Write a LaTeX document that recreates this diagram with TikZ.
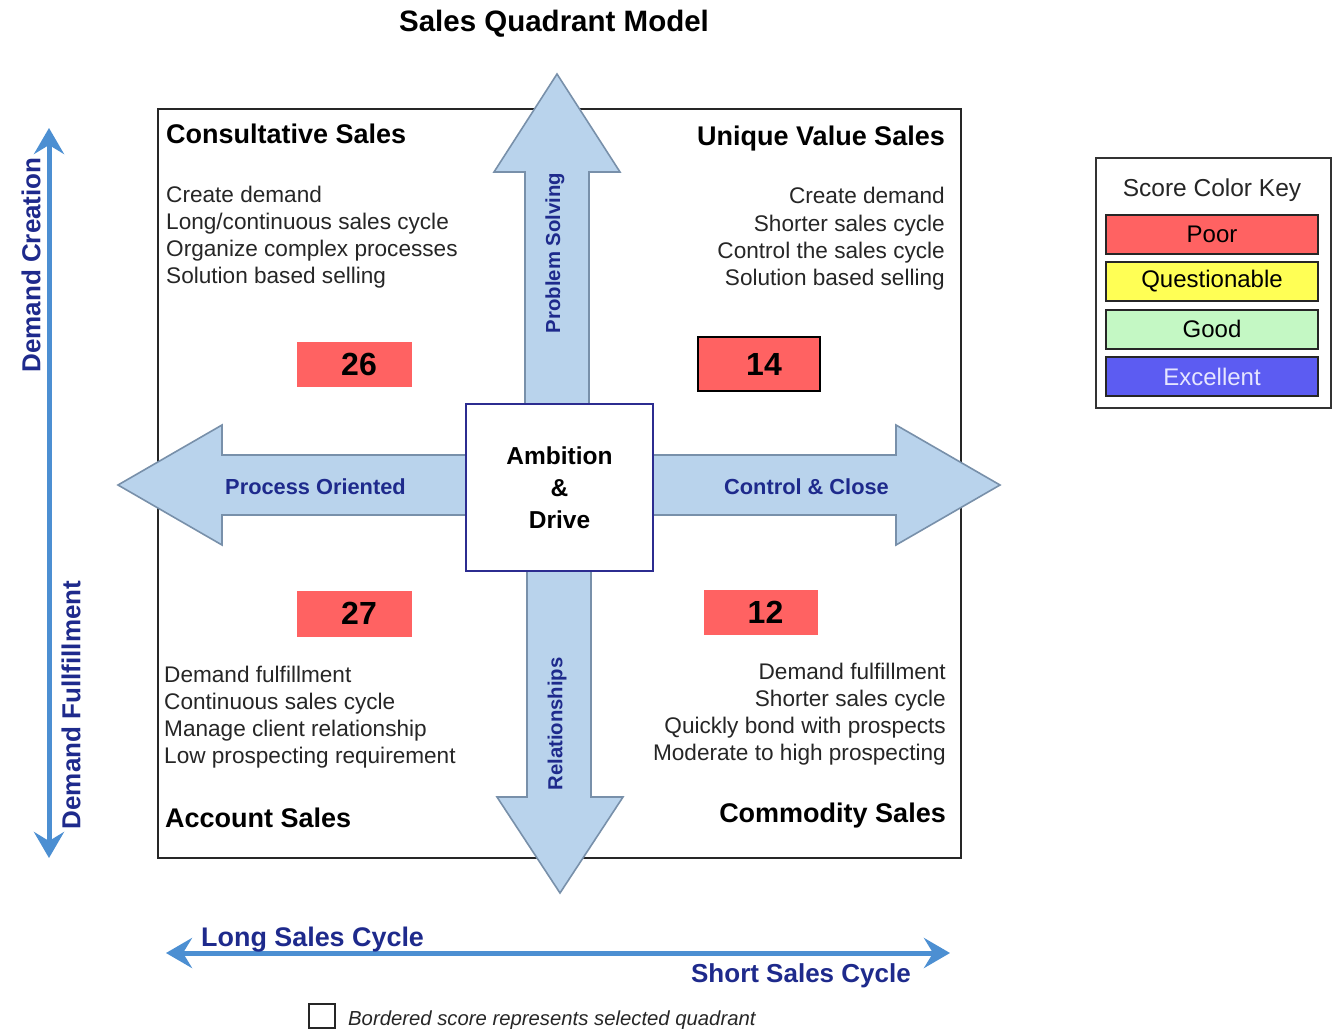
\documentclass[tikz,border=0pt]{standalone}
\usepackage{fontspec}
\setmainfont{Liberation Sans}
\usetikzlibrary{arrows.meta}

\definecolor{scorered}{HTML}{FF6262}
\definecolor{keyyellow}{HTML}{FFFF55}
\definecolor{keygreen}{HTML}{C4F8C4}
\definecolor{keyblue}{HTML}{5C5CF2}
\definecolor{keyblueText}{HTML}{E6E6FF}
\definecolor{bigarrowfill}{HTML}{B9D3EC}
\definecolor{bigarrowline}{HTML}{7890AA}
\definecolor{axisblue}{HTML}{4C8FD2}
\definecolor{navy}{HTML}{1E2A8C}
\definecolor{corenavy}{HTML}{2C2C90}
\definecolor{bodytext}{HTML}{262626}

\newcommand{\fs}[2]{\fontsize{#1}{#2}\selectfont}
% score figures sit a little right of their box centre
\newcommand{\score}[1]{\hspace*{10pt}#1}

\begin{document}
\begin{tikzpicture}[x=1pt,y=-1pt,
  bodyline/.style={inner sep=0pt, text=bodytext, font=\fs{22.6}{27}},
  quadhead/.style={inner sep=0pt, text=black, font=\fs{27}{32}\bfseries},
  scorebox/.style={fill=scorered, draw=scorered, line width=1pt, inner sep=0pt,
    font=\fs{32}{36}\bfseries},
  bigarrow/.style={fill=bigarrowfill, draw=bigarrowline, line width=1.6pt, line join=miter},
  arrowlabel/.style={inner sep=0pt, text=navy, font=\fs{21.8}{26}\bfseries},
  axisline/.style={draw=axisblue, line width=5pt,
    {Stealth[length=26pt,width=30pt,inset=9pt]}-{Stealth[length=26pt,width=30pt,inset=9pt]}},
  axislabel/.style={inner sep=0pt, text=navy, font=\fs{26}{30}\bfseries},
  keybar/.style={draw=black!85, line width=2pt, minimum width=212pt, minimum height=39pt,
    inner sep=0pt, font=\fs{24}{28}},
]
\useasboundingbox[fill=white] (0,0) rectangle (1332,1028);

% title
\node[inner sep=0pt, font=\fs{29.5}{34}\bfseries, anchor=base] (title) at (554,31) {Sales Quadrant Model};

% quadrant frame
\node[draw=black!85, line width=2pt, minimum width=803pt, minimum height=749pt,
  inner sep=0pt, anchor=north west] (frame) at (157,108) {};

% quadrant headings
\node[quadhead, anchor=base west] (qtl) at (166,143) {Consultative Sales};
\node[quadhead, anchor=base east] (qtr) at (945,145) {Unique Value Sales};
\node[quadhead, anchor=base west] (qbl) at (165,827) {Account Sales};
\node[quadhead, anchor=base east] (qbr) at (946,822) {Commodity Sales};

% quadrant descriptions
\node[bodyline, anchor=base west] (tl1) at (166,202) {Create demand};
\node[bodyline, anchor=base west] (tl2) at (166,229) {Long/continuous sales cycle};
\node[bodyline, anchor=base west] (tl3) at (166,256) {Organize complex processes};
\node[bodyline, anchor=base west] (tl4) at (166,283) {Solution based selling};

\node[bodyline, anchor=base east] (tr1) at (945,203) {Create demand};
\node[bodyline, anchor=base east] (tr2) at (945,231) {Shorter sales cycle};
\node[bodyline, anchor=base east] (tr3) at (945,258) {Control the sales cycle};
\node[bodyline, anchor=base east] (tr4) at (945,285) {Solution based selling};

\node[bodyline, anchor=base west] (bl1) at (164,682) {Demand fulfillment};
\node[bodyline, anchor=base west] (bl2) at (164,709) {Continuous sales cycle};
\node[bodyline, anchor=base west] (bl3) at (164,736) {Manage client relationship};
\node[bodyline, anchor=base west] (bl4) at (164,763) {Low prospecting requirement};

\node[bodyline, anchor=base east] (br1) at (946,679) {Demand fulfillment};
\node[bodyline, anchor=base east] (br2) at (946,706) {Shorter sales cycle};
\node[bodyline, anchor=base east] (br3) at (946,733) {Quickly bond with prospects};
\node[bodyline, anchor=base east] (br4) at (946,760) {Moderate to high prospecting};

% scores
\node[scorebox, minimum width=114pt, minimum height=44pt] (s26) at (354,364) {\score{26}};
\node[scorebox, draw=black, line width=2pt, minimum width=122pt, minimum height=54pt] (s14) at (759,364) {\score{14}};
\node[scorebox, minimum width=114pt, minimum height=45pt] (s27) at (354,613.5) {\score{27}};
\node[scorebox, minimum width=113pt, minimum height=44pt] (s12) at (760.5,612) {\score{12}};

% block arrows around the core
\draw[bigarrow] (525,420) -- (525,172) -- (494,172) -- (557,74) -- (620,172) -- (589,172) -- (589,420) -- cycle;
\draw[bigarrow] (527,560) -- (527,797) -- (497,797) -- (560,893) -- (623,797) -- (591,797) -- (591,560) -- cycle;
\draw[bigarrow] (480,455) -- (222,455) -- (222,425) -- (118,485) -- (222,545) -- (222,515) -- (480,515) -- cycle;
\draw[bigarrow] (640,455) -- (896,455) -- (896,425) -- (1000,485) -- (896,545) -- (896,515) -- (640,515) -- cycle;

\node[arrowlabel, rotate=90, font=\fs{20.3}{24}\bfseries] (lps) at (555,253) {Problem Solving};
\node[arrowlabel, rotate=90, font=\fs{20.3}{24}\bfseries] (lrel) at (557,724) {Relationships};
\node[arrowlabel] (lpo) at (315.5,487) {Process Oriented};
\node[arrowlabel] (lcc) at (806.5,487) {Control \& Close};

% core
\node[draw=corenavy, line width=2pt, fill=white, minimum width=187pt, minimum height=167pt,
  inner sep=0pt, align=center, font=\fs{24.5}{32}\bfseries] (core) at (559.5,487.5)
  {Ambition\\\&\\Drive};

% demand axis
\coordinate (dtop) at (49,128);
\coordinate (dbot) at (49,858);
\draw[axisline] (dbot) -- (dtop);
\node[axislabel, rotate=90] (ldc) at (31,265) {Demand Creation};
\node[axislabel, rotate=90] (ldf) at (71,705) {Demand Fullfillment};

% sales cycle axis
\coordinate (cleft) at (166,953);
\coordinate (cright) at (950,953);
\draw[axisline] (cleft) -- (cright);
\node[axislabel, anchor=base west, font=\fs{26.9}{30}\bfseries] (llong) at (201,946) {Long Sales Cycle};
\node[axislabel, anchor=base east] (lshort) at (911,982) {Short Sales Cycle};

% footnote
\node[draw=black!85, line width=1.5pt, minimum width=26pt, minimum height=24pt, inner sep=0pt] (chk) at (322,1016) {};
\node[inner sep=0pt, anchor=base west, text=bodytext, font=\fs{20.3}{24}\itshape] (note) at (348,1025)
  {Bordered score represents selected quadrant};

% colour key
\node[draw=black!80, line width=2pt, minimum width=235pt, minimum height=250pt, inner sep=0pt,
  anchor=north west] (key) at (1095,157) {};
\node[inner sep=0pt, anchor=base, text=bodytext, font=\fs{24.5}{28}] (keytitle) at (1212,196) {Score Color Key};
\node[keybar, fill=scorered] (kpoor) at (1212,234.5) {Poor};
\node[keybar, fill=keyyellow] (kq) at (1212,281.5) {Questionable};
\node[keybar, fill=keygreen] (kgood) at (1212,329) {Good};
\node[keybar, fill=keyblue, text=keyblueText] (kex) at (1212,376.5) {Excellent};
\end{tikzpicture}
\end{document}
